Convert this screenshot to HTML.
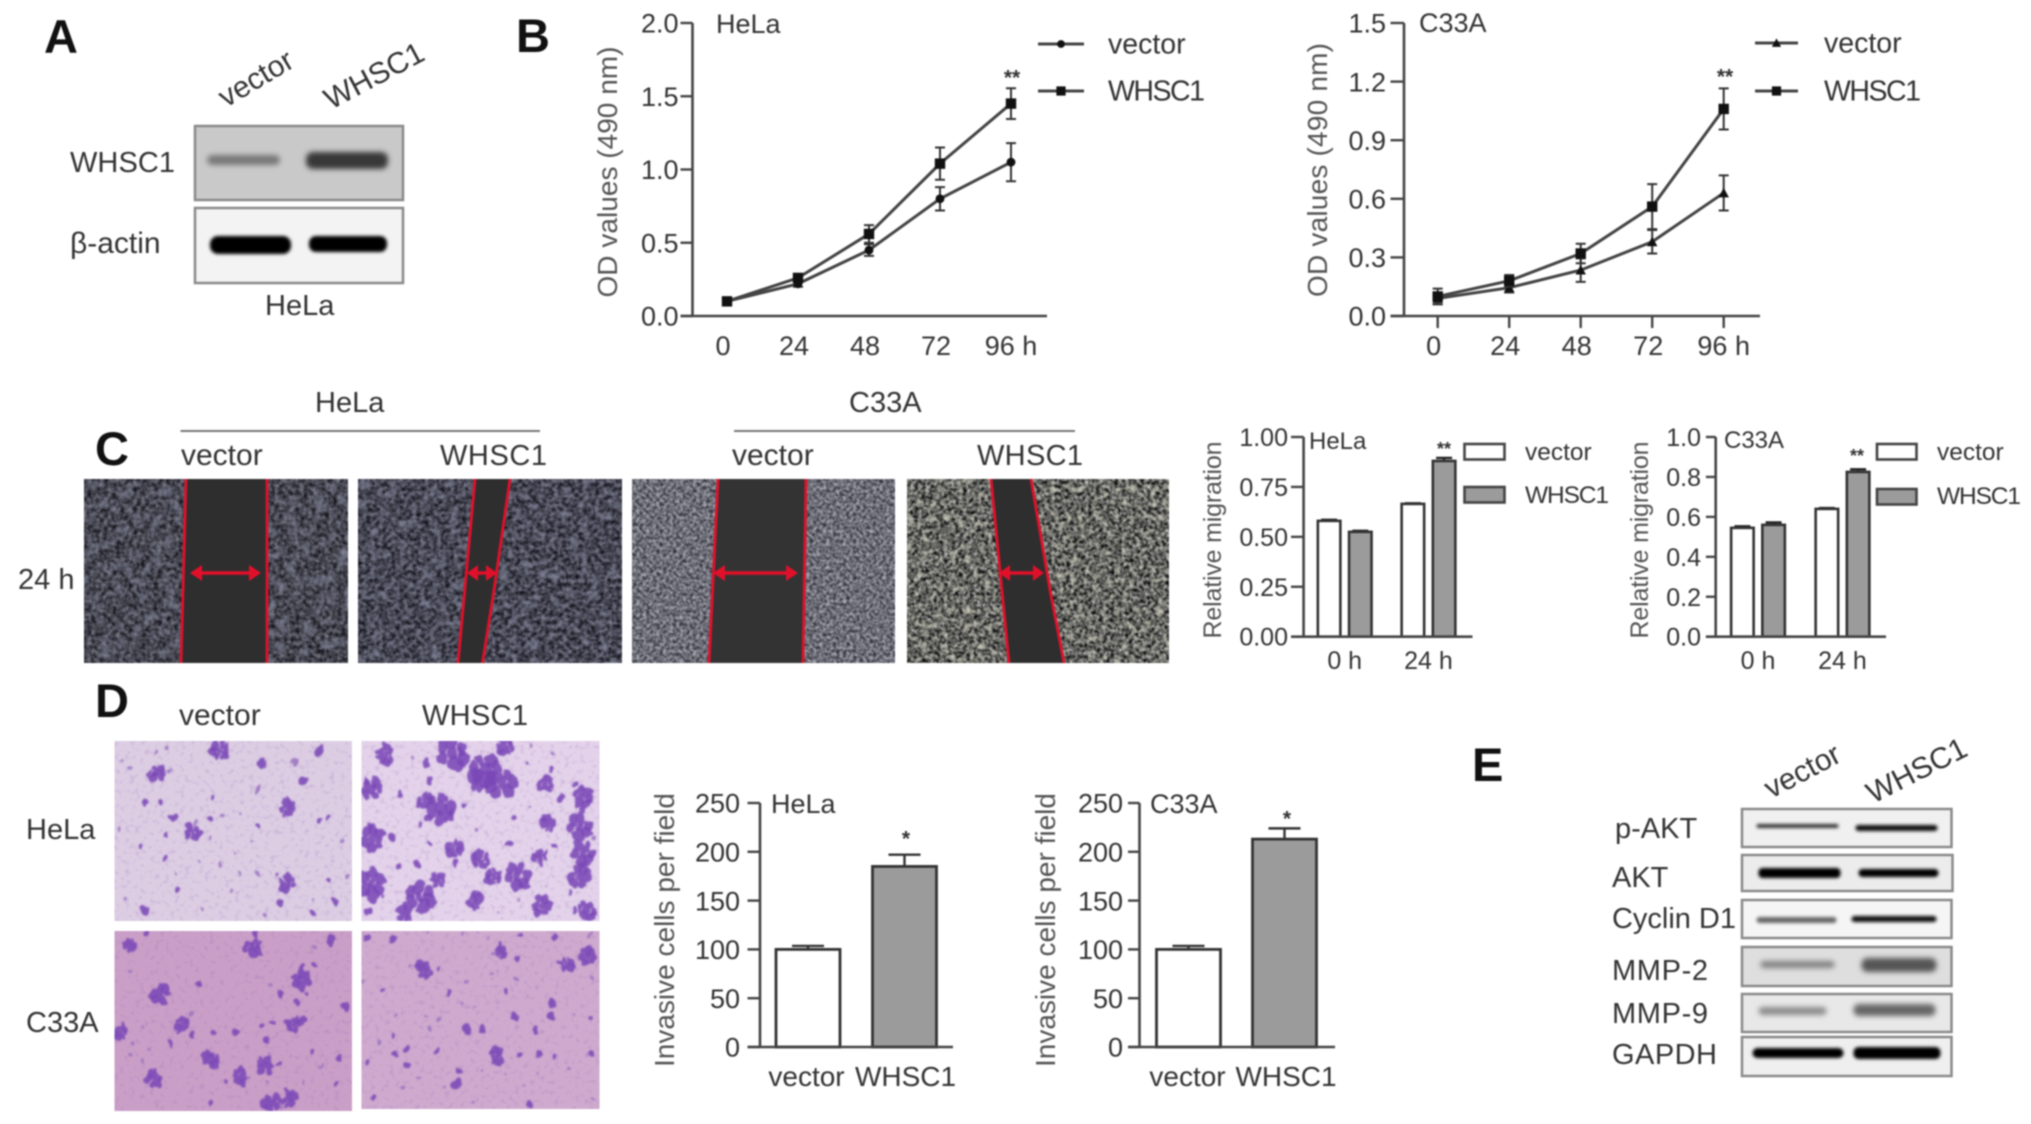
<!DOCTYPE html>
<html lang="en">
<head>
<meta charset="utf-8">
<title>WHSC1 multi-panel figure</title>
<style>
html,body{margin:0;padding:0;background:#fff;width:2031px;height:1124px;overflow:hidden}
#figure{display:block;filter:blur(.7px)}
text{font-family:"Liberation Sans",Arial,sans-serif;fill:#333}
.letter{font-weight:700;font-size:47px;fill:#111}
.lab{font-size:29px}
.blot{stroke:#8a8a8a;stroke-width:2.5}
.red{stroke:#e0102a;stroke-width:2.8;fill:none}
.arrow{stroke:#e0102a;stroke-width:3.6;fill:none}
.arrowhead{fill:#e0102a}
</style>
</head>
<body>
<svg id="figure" xmlns="http://www.w3.org/2000/svg" width="2031" height="1124" viewBox="0 0 2031 1124">
<defs>
<filter id="bandBlur" x="-20%" y="-100%" width="140%" height="300%"><feGaussianBlur stdDeviation="2.6"/></filter>
<filter id="bandBlurLight" x="-20%" y="-100%" width="140%" height="300%"><feGaussianBlur stdDeviation="1.5"/></filter>
<filter id="blobBlur" x="-5%" y="-5%" width="110%" height="110%" color-interpolation-filters="sRGB">
  <feTurbulence type="fractalNoise" baseFrequency=".09" numOctaves="2" seed="4" result="w"/>
  <feDisplacementMap in="SourceGraphic" in2="w" scale="10" xChannelSelector="R" yChannelSelector="G" result="d"/>
  <feGaussianBlur in="d" stdDeviation=".9"/>
</filter>
<filter id="speckle" x="0" y="0" width="1" height="1" color-interpolation-filters="sRGB"><feTurbulence type="fractalNoise" baseFrequency=".2" numOctaves="2" seed="7"/><feColorMatrix type="matrix" values="0 0 0 0 .55  0 0 0 0 .35  0 0 0 0 .68  3 0 0 0 -1.6"/></filter>
<filter id="cellsA" x="0" y="0" width="1" height="1" color-interpolation-filters="sRGB">
  <feTurbulence type="fractalNoise" baseFrequency=".24" numOctaves="2" seed="3" result="n"/>
  <feColorMatrix in="n" type="matrix" values=".62 0 0 0 -.05  .62 0 0 0 -.05  .66 0 0 0 -.03  0 0 0 0 1" result="grain"/>
  <feTurbulence type="fractalNoise" baseFrequency=".08" numOctaves="2" seed="5" result="m"/>
  <feColorMatrix in="m" type="matrix" values="0 0 0 0 .52  0 0 0 0 .54  0 0 0 0 .62  1.8 0 0 0 -.82" result="patch"/>
  <feMerge><feMergeNode in="grain"/><feMergeNode in="patch"/></feMerge>
</filter>
<filter id="cellsB" x="0" y="0" width="1" height="1" color-interpolation-filters="sRGB">
  <feTurbulence type="fractalNoise" baseFrequency=".24" numOctaves="2" seed="11" result="n"/>
  <feColorMatrix in="n" type="matrix" values=".62 0 0 0 -.05  .62 0 0 0 -.05  .68 0 0 0 -.03  0 0 0 0 1" result="grain"/>
  <feTurbulence type="fractalNoise" baseFrequency=".1" numOctaves="2" seed="13" result="m"/>
  <feColorMatrix in="m" type="matrix" values="0 0 0 0 .52  0 0 0 0 .54  0 0 0 0 .62  2 0 0 0 -.95" result="patch"/>
  <feMerge><feMergeNode in="grain"/><feMergeNode in="patch"/></feMerge>
</filter>
<filter id="cellsC" x="0" y="0" width="1" height="1" color-interpolation-filters="sRGB">
  <feTurbulence type="fractalNoise" baseFrequency=".3" numOctaves="2" seed="21"/>
  <feColorMatrix type="matrix" values=".8 0 0 0 .03  .8 0 0 0 .03  .82 0 0 0 .06  0 0 0 0 1"/>
</filter>
<filter id="cellsD" x="0" y="0" width="1" height="1" color-interpolation-filters="sRGB">
  <feTurbulence type="fractalNoise" baseFrequency=".27" numOctaves="2" seed="31" result="n"/>
  <feColorMatrix in="n" type="matrix" values="1.2 0 0 0 -.24  1.2 0 0 0 -.24  1.18 0 0 0 -.24  0 0 0 0 1" result="grain"/>
  <feTurbulence type="fractalNoise" baseFrequency=".14" numOctaves="2" seed="37" result="m"/>
  <feColorMatrix in="m" type="matrix" values="0 0 0 0 .78  0 0 0 0 .78  0 0 0 0 .72  2.6 0 0 0 -1.3" result="patch"/>
  <feMerge><feMergeNode in="grain"/><feMergeNode in="patch"/></feMerge>
</filter>
</defs>

<rect width="2031" height="1124" fill="#fff"/>

<!-- Panel letters -->
<text class="letter" x="44" y="53">A</text>
<text class="letter" x="516" y="52">B</text>
<text class="letter" x="95" y="465">C</text>
<text class="letter" x="95" y="717">D</text>
<text class="letter" x="1472" y="781">E</text>

<!-- Panel A -->
<g>
  <text class="lab" style="font-size:30px" transform="translate(226,108) rotate(-31)">vector</text>
  <text class="lab" style="font-size:30px" transform="translate(331,110) rotate(-28)">WHSC1</text>
  <rect class="blot" x="195" y="126" width="208" height="74" fill="#c9c9c9"/>
  <rect x="207" y="155" width="73" height="10" rx="5" fill="#777" filter="url(#bandBlur)"/>
  <rect x="306" y="152" width="82" height="17" rx="7" fill="#383838" filter="url(#bandBlur)"/>
  <rect class="blot" x="195" y="208" width="208" height="75" fill="#f3f3f3"/>
  <rect x="210" y="236" width="81" height="18" rx="8" fill="#050505" filter="url(#bandBlurLight)"/>
  <rect x="309" y="236" width="78" height="16" rx="7" fill="#050505" filter="url(#bandBlurLight)"/>
  <text class="lab" x="70" y="172" textLength="105">WHSC1</text>
  <text class="lab" style="font-size:30px" x="70" y="253">β-actin</text>
  <text class="lab" x="265" y="315">HeLa</text>
</g>

<!-- Panel C images -->
<g>
  <text class="lab" x="315" y="412">HeLa</text>
  <text class="lab" x="849" y="412">C33A</text>
  <line x1="180.5" y1="431" x2="540" y2="431" stroke="#777" stroke-width="2"/>
  <line x1="734" y1="431" x2="1075" y2="431" stroke="#777" stroke-width="2"/>
  <text class="lab" style="font-size:30px" x="181" y="465">vector</text>
  <text class="lab" x="440" y="465" textLength="107">WHSC1</text>
  <text class="lab" style="font-size:30px" x="732" y="465">vector</text>
  <text class="lab" x="977" y="465" textLength="106">WHSC1</text>
  <text class="lab" x="18" y="589">24 h</text>

  <rect x="84" y="479" width="264" height="184" filter="url(#cellsA)"/>
  <polygon points="186,479 267,479 267,663 181,663" fill="#2e2e2e"/>
  <line class="red" x1="186" y1="479" x2="181" y2="663"/>
  <line class="red" x1="267" y1="479" x2="267" y2="663"/>
  <line class="arrow" x1="196" y1="573" x2="255" y2="573"/>
  <polygon class="arrowhead" points="190,573 202,565 202,581"/>
  <polygon class="arrowhead" points="261,573 249,565 249,581"/>

  <rect x="358" y="479" width="264" height="184" filter="url(#cellsB)"/>
  <polygon points="475,479 510,479 494,590 482.5,663 458,663" fill="#2e2e2e"/>
  <line class="red" x1="475" y1="479" x2="458" y2="663"/>
  <polyline class="red" points="510,479 494,590 482.5,663"/>
  <line class="arrow" x1="471" y1="573" x2="493" y2="573"/>
  <polygon class="arrowhead" points="467,573 478,565 478,581"/>
  <polygon class="arrowhead" points="497,573 486,565 486,581"/>

  <rect x="632" y="479" width="263" height="184" filter="url(#cellsC)"/>
  <polygon points="718,479 806,479 803,663 709,663" fill="#333"/>
  <line class="red" x1="718" y1="479" x2="709" y2="663"/>
  <line class="red" x1="806" y1="479" x2="803" y2="663"/>
  <line class="arrow" x1="719" y1="573" x2="792" y2="573"/>
  <polygon class="arrowhead" points="713,573 725,565 725,581"/>
  <polygon class="arrowhead" points="798,573 786,565 786,581"/>

  <rect x="907" y="479" width="262" height="184" filter="url(#cellsD)"/>
  <polygon points="991,479 1031,479 1050,590 1064,663 1009,663" fill="#2e2e2e"/>
  <line class="red" x1="991" y1="479" x2="1009" y2="663"/>
  <polyline class="red" points="1031,479 1050,590 1064,663"/>
  <line class="arrow" x1="1004" y1="573" x2="1039" y2="573"/>
  <polygon class="arrowhead" points="999,573 1010,565 1010,581"/>
  <polygon class="arrowhead" points="1044,573 1033,565 1033,581"/>
</g>

<!-- Panel D images -->
<g>
  <text class="lab" style="font-size:30px" x="179" y="725">vector</text>
  <text class="lab" x="422" y="725" textLength="106">WHSC1</text>
  <text class="lab" x="26" y="839">HeLa</text>
  <text class="lab" x="26" y="1032">C33A</text>
  <rect x="114.5" y="741" width="237.5" height="180" fill="#dccde3"/>
  <rect x="361.5" y="741" width="238" height="180" fill="#e3d2ea"/>
  <rect x="114.5" y="931" width="237.5" height="180" fill="#ca9fc7"/>
  <rect x="361.5" y="931" width="238" height="178" fill="#cfaace"/>
  <rect x="114.5" y="741" width="237.5" height="180" opacity=".22" filter="url(#speckle)"/>
  <rect x="361.5" y="741" width="238" height="180" opacity=".22" filter="url(#speckle)"/>
  <rect x="114.5" y="931" width="237.5" height="180" opacity=".22" filter="url(#speckle)"/>
  <rect x="361.5" y="931" width="238" height="178" opacity=".22" filter="url(#speckle)"/>
  <clipPath id="invasion-clip"><rect x="114.5" y="741" width="237.5" height="180"/><rect x="361.5" y="741" width="238" height="180"/><rect x="114.5" y="931" width="237.5" height="180"/><rect x="361.5" y="931" width="238" height="178"/></clipPath>
  <g clip-path="url(#invasion-clip)">
    <g id="cell-blobs" filter="url(#blobBlur)"></g>
  </g>
</g>

<!-- Panel E -->
<g>
  <text class="lab" style="font-size:30px" transform="translate(1771,799) rotate(-28)">vector</text>
  <text class="lab" style="font-size:30px" transform="translate(1873,804) rotate(-27)">WHSC1</text>
  <text class="lab" x="1615" y="838">p-AKT</text>
  <text class="lab" x="1612" y="887">AKT</text>
  <text class="lab" x="1612" y="928" textLength="124">Cyclin D1</text>
  <text class="lab" x="1612" y="980" textLength="96">MMP-2</text>
  <text class="lab" x="1612" y="1023" textLength="96">MMP-9</text>
  <text class="lab" x="1612" y="1064" textLength="105">GAPDH</text>

  <rect class="blot" x="1742" y="809" width="209.5" height="38" fill="#f0f0f0"/>
  <rect class="blot" x="1742" y="855" width="210.5" height="36" fill="#ececec"/>
  <rect class="blot" x="1742" y="900" width="209.5" height="38" fill="#f5f5f5"/>
  <rect class="blot" x="1742" y="947" width="209.5" height="39" fill="#dedede"/>
  <rect class="blot" x="1742" y="994" width="209.5" height="38" fill="#e8e8e8"/>
  <rect class="blot" x="1742" y="1037" width="209.5" height="39" fill="#efefef"/>

  <g transform="translate(-1.5,0)">
    <rect x="1758" y="824" width="82" height="4" rx="2" fill="#333" filter="url(#bandBlurLight)"/>
    <rect x="1857" y="825" width="82" height="6" rx="3" fill="#111" filter="url(#bandBlurLight)"/>
    <rect x="1760" y="868" width="82" height="10" rx="4" fill="#000" filter="url(#bandBlurLight)"/>
    <rect x="1860" y="869" width="80" height="8" rx="4" fill="#000" filter="url(#bandBlurLight)"/>
    <rect x="1758" y="917" width="80" height="6" rx="3" fill="#666" filter="url(#bandBlurLight)"/>
    <rect x="1853" y="916" width="85" height="6" rx="3" fill="#111" filter="url(#bandBlurLight)"/>
    <rect x="1762" y="961" width="74" height="7" rx="3" fill="#808080" filter="url(#bandBlur)"/>
    <rect x="1863" y="958" width="75" height="14" rx="6" fill="#555" filter="url(#bandBlur)"/>
    <rect x="1760" y="1007" width="68" height="8" rx="4" fill="#8a8a8a" filter="url(#bandBlur)"/>
    <rect x="1855" y="1004" width="82" height="12" rx="5" fill="#666" filter="url(#bandBlur)"/>
    <rect x="1754" y="1048" width="91" height="10" rx="5" fill="#000" filter="url(#bandBlurLight)"/>
    <rect x="1855" y="1047" width="87" height="12" rx="5" fill="#000" filter="url(#bandBlurLight)"/>
  </g>
</g>

<g id="charts"></g>
</svg>

<script>
// ---- Panel B data ----
const hourLabels = ['0', '24', '48', '72', '96 h'];
const helaOdTicks = [0, 0.5, 1.0, 1.5, 2.0];
const helaOdTickLabels = ['0.0', '0.5', '1.0', '1.5', '2.0'];
const helaOdVector = [0.10, 0.22, 0.45, 0.80, 1.05];
const helaOdVectorErr = [0.015, 0.02, 0.04, 0.08, 0.13];
const helaOdWhsc1 = [0.10, 0.26, 0.56, 1.04, 1.45];
const helaOdWhsc1Err = [0.015, 0.02, 0.06, 0.11, 0.105];
const c33aOdTicks = [0, 0.3, 0.6, 0.9, 1.2, 1.5];
const c33aOdTickLabels = ['0.0', '0.3', '0.6', '0.9', '1.2', '1.5'];
const c33aOdVector = [0.09, 0.145, 0.235, 0.38, 0.63];
const c33aOdVectorErr = [0.03, 0.025, 0.06, 0.06, 0.09];
const c33aOdWhsc1 = [0.10, 0.18, 0.32, 0.56, 1.06];
const c33aOdWhsc1Err = [0.04, 0.03, 0.05, 0.115, 0.105];

// ---- Panel C data ----
const migrationGroups = ['0 h', '24 h'];
const helaMigTicks = [0, 0.25, 0.5, 0.75, 1.0];
const helaMigTickLabels = ['0.00', '0.25', '0.50', '0.75', '1.00'];
const helaMigVector = [0.58, 0.665];
const helaMigVectorErr = [0.005, 0.003];
const helaMigWhsc1 = [0.525, 0.88];
const helaMigWhsc1Err = [0.005, 0.015];
const c33aMigTicks = [0, 0.2, 0.4, 0.6, 0.8, 1.0];
const c33aMigTickLabels = ['0.0', '0.2', '0.4', '0.6', '0.8', '1.0'];
const c33aMigVector = [0.545, 0.64];
const c33aMigVectorErr = [0.008, 0.004];
const c33aMigWhsc1 = [0.56, 0.825];
const c33aMigWhsc1Err = [0.012, 0.013];

// ---- Panel D data ----
const invasionCategories = ['vector', 'WHSC1'];
const invasionTicks = [0, 50, 100, 150, 200, 250];
const invasionTickLabels = ['0', '50', '100', '150', '200', '250'];
const helaInvasion = [100, 185];
const helaInvasionErr = [3.5, 12];
const c33aInvasion = [100, 213];
const c33aInvasionErr = [3.5, 11];

const NS = 'http://www.w3.org/2000/svg';
const chartsRoot = document.getElementById('charts');

function make(tag, attrs, parent, text) {
  const el = document.createElementNS(NS, tag);
  for (const k in attrs) el.setAttribute(k, attrs[k]);
  if (text !== undefined) el.textContent = text;
  parent.appendChild(el);
  return el;
}

function drawAxes(g, L, ticks, tickLabels, yScale, tickFont) {
  const yAxis = make('line', {x1: L.axisX, x2: L.axisX, y1: L.top, y2: L.bottom, stroke: '#444', 'stroke-width': 2.6}, g);
  
  
  const xAxis = make('line', {x1: L.xStart, x2: L.xEnd, y1: L.bottom, y2: L.bottom, stroke: '#444', 'stroke-width': 2.6}, g);
  
  
  ticks.forEach(function (t, i) {
    const y = yScale(t);
    const tick = make('line', {x1: L.xStart, x2: L.axisX, y1: y, y2: y, stroke: '#444', 'stroke-width': 2.4}, g);
    
    
    const label = make('text', {x: L.tickRight, y: y + tickFont * 0.36, 'text-anchor': 'end', 'font-size': tickFont}, g, tickLabels[i]);
    
    
  });
}

function drawTitles(g, L) {
  const yTitle = make('text', {
    transform: 'translate(' + L.titleX + ',' + L.titleY + ') rotate(-90)',
    'text-anchor': 'middle', 'font-size': L.titleFont, textLength: L.titleLen, style: 'fill:#555'
  }, g, L.yTitle);
  
  
  const name = make('text', {x: L.nameX, y: L.nameY, 'font-size': L.nameFont}, g, L.name);
  
  
}

function drawStar(g, x, y, str, size) {
  const s = make('text', {x: x, y: y + size * 0.5, 'text-anchor': 'middle', 'font-size': size, 'font-weight': 700}, g, str);
  
  
}

function drawMarker(g, kind, x, y, size) {
  let m;
  if (kind === 'circle') {
    m = make('circle', {cx: x, cy: y, r: size * 0.85, fill: '#111'}, g);
  } else if (kind === 'triangle') {
    m = make('polygon', {points: (x - size) + ',' + (y + size * 0.85) + ' ' + (x + size) + ',' + (y + size * 0.85) + ' ' + x + ',' + (y - size), fill: '#111'}, g);
  } else {
    m = make('rect', {x: x - size, y: y - size, width: size * 2, height: size * 2, fill: '#111'}, g);
  }
  
  
}

function lineChart(L, labels, ticks, tickLabels, series) {
  const g = make('g', {}, chartsRoot);
  
  
  const yScale = function (v) { return L.bottom - v / L.yMax * (L.bottom - L.top); };
  const xScale = function (i) { return L.x0 + i * L.dx; };
  drawAxes(g, L, ticks, tickLabels, yScale, 27);
  drawTitles(g, L);
  labels.forEach(function (lab, i) {
    const x = xScale(i);
    if (L.xTicks) {
      const tk = make('line', {x1: x, x2: x, y1: L.bottom, y2: L.bottom + 12, stroke: '#444', 'stroke-width': 2.4}, g);
      
      
    }
    const off = i === labels.length - 1 ? 0 : -4;
    const t = make('text', {x: x + off, y: L.bottom + 39, 'text-anchor': 'middle', 'font-size': 27}, g, lab);
    
    
  });
  series.forEach(function (s) {
    const path = s.values.map(function (v, i) { return xScale(i) + ',' + yScale(v); }).join(' ');
    const line = make('polyline', {points: path, fill: 'none', stroke: '#444', 'stroke-width': 3}, g);
    
    
    s.values.forEach(function (v, i) {
      const x = xScale(i), hi = yScale(v + s.err[i]), lo = yScale(v - s.err[i]);
      const bar = make('path', {d: 'M' + (x - 5) + ' ' + hi + 'H' + (x + 5) + 'M' + x + ' ' + hi + 'V' + lo + 'M' + (x - 5) + ' ' + lo + 'H' + (x + 5), fill: 'none', stroke: '#333', 'stroke-width': 2}, g);
      
      
      drawMarker(g, s.marker, x, yScale(v), 5.2);
    });
    const ly = s.legendY;
    const legLine = make('line', {x1: L.legendX1, x2: L.legendX2, y1: ly, y2: ly, stroke: '#444', 'stroke-width': 3}, g);
    
    
    drawMarker(g, s.marker, (L.legendX1 + L.legendX2) / 2, ly, 4.6);
    const legAttrs = {x: L.legendTextX, y: ly + 9.5, 'font-size': 28.5};
    if (s.name === 'WHSC1') legAttrs.textLength = 97;
    const legText = make('text', legAttrs, g, s.name);
    
    
  });
  drawStar(g, L.starX, L.starY, '**', 21);
}

function groupedBarChart(L, groups, ticks, tickLabels, vec, vecErr, whs, whsErr) {
  const g = make('g', {}, chartsRoot);
  
  
  const yScale = function (v) { return L.bottom - v / L.yMax * (L.bottom - L.top); };
  const drawBar = function (cx, v, e, fill, name) {
    const y = yScale(v), top = yScale(v + e);
    const err = make('path', {d: 'M' + (cx - 8) + ' ' + top + 'H' + (cx + 8) + 'M' + cx + ' ' + top + 'V' + y, stroke: '#222', 'stroke-width': 2.4, fill: 'none'}, g);
    
    
    const b = make('rect', {x: cx - L.barW / 2, y: y, width: L.barW, height: L.bottom - y, fill: fill, stroke: '#333', 'stroke-width': 2.6}, g);
    
    
  };
  groups.forEach(function (lab, i) {
    const c = L.groupX[i];
    drawBar(c - L.offset, vec[i], vecErr[i], '#fff', 'bar-vector');
    drawBar(c + L.offset, whs[i], whsErr[i], '#9b9b9b', 'bar-whsc1');
    const t = make('text', {x: c, y: 669, 'text-anchor': 'middle', 'font-size': 25}, g, lab);
    
    
  });
  drawAxes(g, L, ticks, tickLabels, yScale, 25);
  drawTitles(g, L);
  drawStar(g, L.starX, L.starY, '**', 18);
  [['vector', '#fff', 444, 460], ['WHSC1', '#9b9b9b', L.grayLegendY, L.grayLegendText]].forEach(function (e) {
    const box = make('rect', {x: L.legendX, y: e[2], width: L.legendW, height: 15.5, fill: e[1], stroke: '#444', 'stroke-width': 2.6}, g);
    
    
    const legAttrs = {x: L.legendTextX, y: e[3], 'font-size': 24.5};
    if (e[0] === 'WHSC1') legAttrs.textLength = 84;
    const t = make('text', legAttrs, g, e[0]);
    
    
  });
}

function simpleBarChart(L, cats, ticks, tickLabels, vals, errs) {
  const g = make('g', {}, chartsRoot);
  
  
  const yScale = function (v) { return L.bottom - v / L.yMax * (L.bottom - L.top); };
  cats.forEach(function (cat, i) {
    const cx = L.barX[i], y = yScale(vals[i]), top = yScale(vals[i] + errs[i]);
    const err = make('path', {d: 'M' + (cx - 16) + ' ' + top + 'H' + (cx + 16) + 'M' + cx + ' ' + top + 'V' + y, stroke: '#333', 'stroke-width': 2.4, fill: 'none'}, g);
    
    
    const b = make('rect', {x: cx - L.barW / 2, y: y, width: L.barW, height: L.bottom - y, fill: i === 0 ? '#fff' : '#9b9b9b', stroke: '#333', 'stroke-width': 2.8}, g);
    
    
    const t = make('text', {x: L.labelX[i], y: 1086, 'text-anchor': 'middle', 'font-size': 28}, g, cat);
    
    
  });
  drawAxes(g, L, ticks, tickLabels, yScale, 27);
  drawTitles(g, L);
  drawStar(g, L.starX, L.starY, '*', 21);
}

lineChart({
  id: 'chart-od-hela', axisX: 692.5, top: 23, bottom: 316, xStart: 680.5, xEnd: 1047, yMax: 2.0, x0: 727, dx: 71,
  tickRight: 678.5, xTicks: false, yTitle: 'OD values (490 nm)', titleX: 617, titleY: 172, titleFont: 28, titleLen: 251,
  name: 'HeLa', nameX: 716, nameY: 33, nameFont: 27, legendX1: 1038, legendX2: 1084, legendTextX: 1108, starX: 1012, starY: 74
}, hourLabels, helaOdTicks, helaOdTickLabels, [
  {name: 'vector', values: helaOdVector, err: helaOdVectorErr, marker: 'circle', legendY: 44},
  {name: 'WHSC1', values: helaOdWhsc1, err: helaOdWhsc1Err, marker: 'square', legendY: 91}
]);

lineChart({
  id: 'chart-od-c33a', axisX: 1404, top: 23, bottom: 316, xStart: 1390.5, xEnd: 1760, yMax: 1.5, x0: 1437.7, dx: 71.5,
  tickRight: 1386, xTicks: true, yTitle: 'OD values (490 nm)', titleX: 1327, titleY: 170, titleFont: 28, titleLen: 254,
  name: 'C33A', nameX: 1419, nameY: 32, nameFont: 27, legendX1: 1755, legendX2: 1798, legendTextX: 1824, starX: 1725, starY: 73
}, hourLabels, c33aOdTicks, c33aOdTickLabels, [
  {name: 'vector', values: c33aOdVector, err: c33aOdVectorErr, marker: 'triangle', legendY: 43},
  {name: 'WHSC1', values: c33aOdWhsc1, err: c33aOdWhsc1Err, marker: 'square', legendY: 91}
]);

groupedBarChart({
  id: 'chart-migration-hela', axisX: 1303.6, top: 437, bottom: 636.7, xStart: 1291, xEnd: 1472.5, yMax: 1.0,
  groupX: [1344.7, 1428.5], offset: 15.6, barW: 22.5, tickRight: 1288, yTitle: 'Relative migration', titleX: 1221, titleY: 540,
  titleFont: 25, titleLen: 197, name: 'HeLa', nameX: 1309, nameY: 449, nameFont: 24, starX: 1444, starY: 446,
  legendX: 1464.5, legendW: 40, grayLegendY: 487, grayLegendText: 503, legendTextX: 1525
}, migrationGroups, helaMigTicks, helaMigTickLabels, helaMigVector, helaMigVectorErr, helaMigWhsc1, helaMigWhsc1Err);

groupedBarChart({
  id: 'chart-migration-c33a', axisX: 1715.7, top: 437, bottom: 636.7, xStart: 1705.9, xEnd: 1886, yMax: 1.0,
  groupX: [1758, 1842.5], offset: 15.6, barW: 22.5, tickRight: 1701, yTitle: 'Relative migration', titleX: 1648, titleY: 540,
  titleFont: 25, titleLen: 197, name: 'C33A', nameX: 1724, nameY: 448, nameFont: 24, starX: 1857, starY: 453,
  legendX: 1877, legendW: 39.5, grayLegendY: 489, grayLegendText: 504, legendTextX: 1937
}, migrationGroups, c33aMigTicks, c33aMigTickLabels, c33aMigVector, c33aMigVectorErr, c33aMigWhsc1, c33aMigWhsc1Err);

simpleBarChart({
  id: 'chart-invasion-hela', axisX: 760, top: 803, bottom: 1047, xStart: 747.5, xEnd: 953, yMax: 250,
  barX: [808, 904.5], labelX: [806.5, 905.5], barW: 64, tickRight: 740, yTitle: 'Invasive cells per field', titleX: 674, titleY: 930,
  titleFont: 28, titleLen: 274, name: 'HeLa', nameX: 771, nameY: 813, nameFont: 27, starX: 906, starY: 835
}, invasionCategories, invasionTicks, invasionTickLabels, helaInvasion, helaInvasionErr);

simpleBarChart({
  id: 'chart-invasion-c33a', axisX: 1139.5, top: 803, bottom: 1047, xStart: 1128, xEnd: 1335, yMax: 250,
  barX: [1188.5, 1284.5], labelX: [1187.5, 1286], barW: 64, tickRight: 1123, yTitle: 'Invasive cells per field', titleX: 1055, titleY: 930,
  titleFont: 28, titleLen: 274, name: 'C33A', nameX: 1150, nameY: 813, nameFont: 27, starX: 1287, starY: 815
}, invasionCategories, invasionTicks, invasionTickLabels, c33aInvasion, c33aInvasionErr);

// ---- Stained cells in the invasion micrographs, placed by eye ----
const cellsHelaVector = [[540,180,16],[645,220,12],[785,178,12],[722,215,7],[385,250,15],[415,240,6],[380,185,7],[410,172,5],[320,235,6],[745,270,12],[635,298,7],[525,325,10],[705,350,14],[355,340,12],[395,335,10],[425,382,12],[520,385,9],[475,425,16],[405,435,12],[635,410,8],[780,390,12],[805,382,8],[590,370,6],[545,380,6],[345,465,9],[405,503,9],[485,515,6],[540,525,6],[585,555,7],[635,548,6],[430,550,7],[435,600,10],[705,580,16],[680,550,8],[805,573,9],[855,560,7],[770,630,6],[820,635,11],[685,640,10],[765,670,10],[355,660,12],[495,655,6],[570,605,6],[305,620,5],[650,675,6],[835,450,6],[620,460,6],[290,415,6],[580,490,5],[515,440,5],[480,395,6],[295,210,5]];
const cellsHelaWhsc1 = [[1110,190,28],[1190,235,25],[1230,280,26],[1175,270,20],[1080,355,26],[1040,330,15],[1050,385,12],[945,195,18],[910,295,20],[980,310,12],[1045,220,10],[1055,270,10],[895,270,8],[1240,170,16],[1340,280,14],[1375,320,10],[1430,320,18],[1410,280,8],[1355,240,8],[1300,220,8],[1360,190,6],[1300,165,6],[1010,205,7],[1420,410,22],[1345,400,14],[1260,380,10],[1430,490,20],[1325,500,15],[1360,470,10],[1180,510,16],[1115,475,16],[1115,520,9],[1270,560,22],[1210,560,14],[1250,460,12],[1025,520,12],[978,530,11],[1055,465,8],[915,445,22],[960,445,12],[905,410,10],[910,580,26],[1030,620,26],[1075,570,14],[995,670,16],[1165,635,15],[1330,650,18],[1440,660,16],[1410,660,8],[1420,560,20],[1400,610,8],[900,665,12],[1220,670,6],[1270,630,6],[1030,400,8],[1165,420,6],[940,620,8],[1140,350,8],[1300,350,6],[1430,360,10],[1455,450,6]];
const cellsC33aVector = [[320,765,14],[360,730,12],[620,770,16],[625,730,8],[812,748,12],[770,775,6],[775,825,12],[740,830,8],[738,870,18],[755,905,9],[665,880,7],[692,915,10],[725,935,11],[850,948,12],[490,880,13],[395,912,17],[322,842,5],[295,1025,15],[325,1060,7],[360,1070,7],[320,1095,6],[352,1115,6],[418,1058,10],[445,1005,15],[470,1030,10],[470,975,7],[525,1030,11],[578,1030,11],[645,1005,8],[670,1000,10],[720,1000,14],[745,990,10],[655,1048,9],[515,1108,16],[650,1125,16],[685,1120,8],[660,1090,6],[765,1085,11],[830,1108,8],[590,1160,16],[555,1175,8],[615,1170,6],[378,1165,16],[740,1180,7],[655,1180,6],[790,1130,5],[825,1180,8],[670,1235,17],[710,1225,15],[515,1240,9],[690,1250,6],[350,1010,5]];
const cellsC33aWhsc1 = [[900,745,8],[962,745,9],[1050,730,7],[1130,735,4],[1195,742,6],[1275,735,10],[1360,740,13],[1450,735,5],[1230,785,14],[1270,800,10],[1210,795,6],[1390,825,15],[1440,800,15],[1040,840,15],[1005,825,6],[1075,835,8],[1265,870,7],[1205,850,6],[1455,860,7],[1145,880,6],[1240,905,8],[892,870,7],[935,905,9],[1100,905,8],[1355,940,11],[1355,980,11],[1130,940,6],[1165,945,5],[1265,980,11],[1450,985,8],[1410,980,5],[1045,975,5],[975,970,6],[1075,985,6],[1145,1018,10],[1185,1020,13],[1315,1022,11],[1055,1020,6],[965,1035,8],[930,1055,7],[995,1075,13],[970,1095,8],[1070,1085,9],[1220,1100,15],[1275,1095,11],[1325,1090,10],[1360,1100,11],[1450,1090,12],[900,1120,8],[1000,1125,9],[1125,1142,13],[1120,1185,13],[1180,1140,5],[1090,1190,6],[1030,1160,6],[990,1195,7],[910,1220,11],[1290,1190,5],[1300,1245,11],[1390,1140,6],[1455,1230,6],[1320,1150,5],[1240,1150,4],[1160,1235,4]];
// Larger stained patches are drawn as a small clump of overlapping cells.
const clumpOffsets = [[0,0],[-0.75,-0.55],[0.8,-0.5],[-0.7,0.65],[0.75,0.6],[0.05,-1.05],[0.1,1.05]];

const blobRoot = document.getElementById('cell-blobs');
[cellsHelaVector, cellsHelaWhsc1, cellsC33aVector, cellsC33aWhsc1].forEach(function (cells) {
  cells.forEach(function (c) {
    const px = c[0] / 2.453, py = 690 + c[1] / 3, size = c[2] / 2.453;
    const parts = c[2] >= 14 ? clumpOffsets : [[0, 0]];
    const rad = c[2] >= 14 ? Math.max(2.8, size * 0.5) : size * 0.78;
    const angle = (c[0] + c[1]) * 0.7;
    const cos = Math.cos(angle), sin = Math.sin(angle);
    parts.forEach(function (o, k) {
      const dx = (o[0] * cos - o[1] * sin) * size, dy = (o[0] * sin + o[1] * cos) * size;
      const vary = 0.8 + ((c[0] * 7 + c[1] * 3 + k * 13) % 10) / 20;
      const e = make('ellipse', {cx: px + dx, cy: py + dy, rx: rad * vary, ry: rad * 1.2 * vary, fill: c[2] > 7 ? '#7a48b6' : '#9a74bf', opacity: 0.88}, blobRoot);
      
      
    });
  });
});
</script>
</body>
</html>
